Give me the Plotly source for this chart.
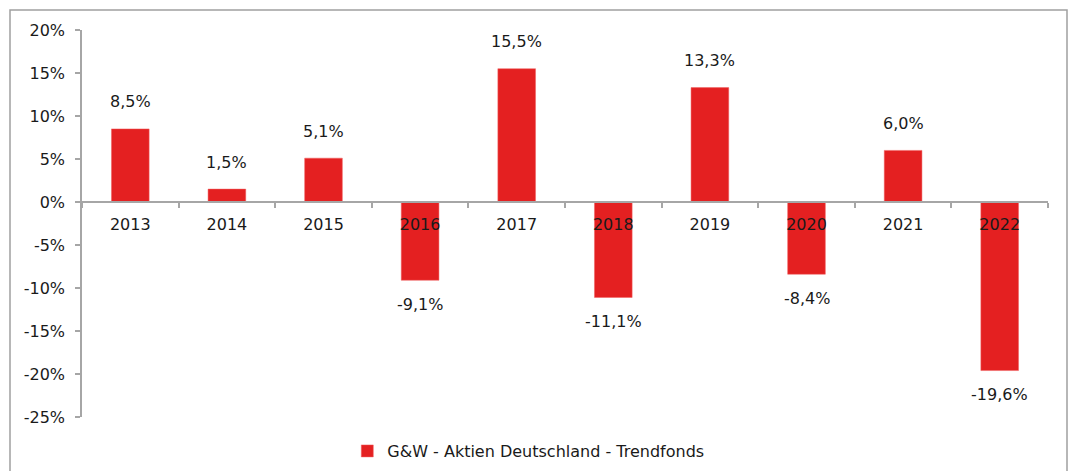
import plotly.graph_objects as go

years = ["2013", "2014", "2015", "2016", "2017", "2018", "2019", "2020", "2021", "2022"]
returns = [8.5, 1.5, 5.1, -9.1, 15.5, -11.1, 13.3, -8.4, 6.0, -19.6]
y_ticks = [20, 15, 10, 5, 0, -5, -10, -15, -20, -25]
y_tick_labels = [f"{v}%" for v in y_ticks]
series_name = "G&W - Aktien Deutschland - Trendfonds"

RED = "#E42021"
GREY = "#A6A6A6"
FONT = dict(family="DejaVu Sans", size=16, color="#1a1a1a")

fig = go.Figure()
fig.add_trace(go.Bar(
    x=years, y=returns, name=series_name,
    marker=dict(color=RED, line=dict(color="#F06060", width=0.5)),
    showlegend=True,
))

for i, v in enumerate(returns):
    fig.add_annotation(
        x=i, y=v, xref="x", yref="y", text=f"{v:.1f}".replace(".", ",") + "%",
        showarrow=False, yanchor="middle",
        yshift=27 if v > 0 else -24,
        font=FONT,
    )

fig.update_layout(
    width=1071, height=471,
    margin=dict(l=82, r=23, t=30, b=54, autoexpand=False),
    paper_bgcolor="white", plot_bgcolor="white",
    font=FONT,
    bargap=0.61,
    xaxis=dict(
        type="category", anchor="free", position=25 / 45,
        range=[-0.5, len(years) - 0.5], autorange=False,
        showline=True, linecolor=GREY, linewidth=1.5,
        ticks="outside", tickson="boundaries", ticklen=5, tickcolor=GREY, tickwidth=1.5,
        showgrid=False, zeroline=False, ticklabelstandoff=8, tickangle=0,
        tickfont=FONT, automargin=False,
    ),
    yaxis=dict(
        range=[-25, 20], tickvals=y_ticks, ticktext=y_tick_labels,
        showline=True, linecolor=GREY, linewidth=1.5,
        ticks="outside", ticklen=5, tickcolor=GREY, tickwidth=1.5,
        showgrid=False, zeroline=False, ticklabelstandoff=7,
        tickfont=FONT, automargin=False,
    ),
    legend=dict(orientation="h", x=0.462, xanchor="center",
                yref="container", y=(471 - 451) / 471, yanchor="middle",
                font=FONT, itemwidth=30),
    shapes=[dict(type="rect", xref="paper", yref="paper",
                 x0=(10 - 82) / 966, x1=(1067 - 82) / 966,
                 y0=(417 - 500) / 387, y1=(417 - 10) / 387,
                 line=dict(color="#A0A0A0", width=1.5), fillcolor="rgba(0,0,0,0)", layer="below")],
)

fig.write_html("out.html")
